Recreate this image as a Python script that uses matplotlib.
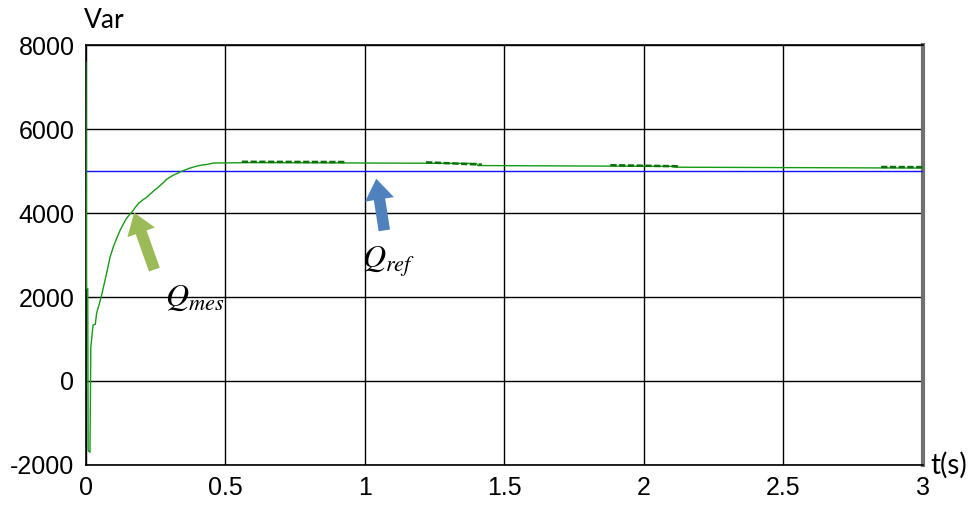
import matplotlib
matplotlib.use("Agg")
import matplotlib.pyplot as plt
import numpy as np

# ---- data ----
t_mes = [0.0, 0.0004, 0.003, 0.008, 0.0095, 0.016, 0.019, 0.027, 0.035, 0.040,
         0.050, 0.058, 0.070, 0.080, 0.088, 0.100, 0.112, 0.124, 0.135, 0.145,
         0.156, 0.166, 0.178, 0.190, 0.205, 0.220, 0.235, 0.245, 0.258, 0.268,
         0.280, 0.290, 0.302, 0.314, 0.328, 0.340, 0.355, 0.370, 0.385, 0.400,
         0.415, 0.430, 0.445, 0.458, 0.60, 1.00, 1.40, 1.405, 2.10, 2.12, 3.00]
q_mes = [-150, 7600, 2200, 2200, -1650, -1700, 800, 1330, 1350, 1620,
         1850, 2050, 2400, 2700, 2950, 3200, 3400, 3590, 3730, 3850,
         3950, 4020, 4130, 4230, 4310, 4380, 4470, 4530, 4600, 4660,
         4730, 4800, 4850, 4900, 4940, 4980, 5020, 5060, 5090, 5120,
         5140, 5150, 5170, 5190, 5200, 5190, 5180, 5130, 5110, 5090, 5070]
t_ref = [0.0, 3.0]
q_ref = [5000, 5000]

# noisy stretches of the measured curve (start, end) in seconds
noisy = [(0.56, 0.93), (1.22, 1.42), (1.88, 2.13), (2.85, 3.0)]

x_ticks = [0, 0.5, 1, 1.5, 2, 2.5, 3]
x_labels = ["0", "0.5", "1", "1.5", "2", "2.5", "3"]
y_ticks = [-2000, 0, 2000, 4000, 6000, 8000]
y_labels = ["-2000", "0", "2000", "4000", "6000", "8000"]

plt.rcParams['font.family'] = ['Liberation Sans', 'DejaVu Sans']
plt.rcParams['mathtext.fontset'] = 'stix'

fig = plt.figure(figsize=(9.77, 5.05), dpi=100)
ax = fig.add_axes([85.5/977, 1-465/505, (923-85.5)/977, (465-45)/505])

ax.plot(t_ref, q_ref, color='#1010ff', lw=1.0, zorder=3)
ax.plot(t_mes, q_mes, color='#159a15', lw=1.0, zorder=4)

# thicker segments where the measured signal chatters
tm = np.array(t_mes); qm = np.array(q_mes)
for a, b in noisy:
    qa = np.interp(a, tm, qm); qb = np.interp(b, tm, qm)
    ax.plot([a, b], [qa + 22, qb + 22], color='#0b700b', lw=1.8, zorder=4,
            solid_capstyle='butt', dashes=(2.5, 1.0))

ax.set_xlim(0, 3)
ax.set_ylim(-2000, 8000)
ax.set_xticks(x_ticks)
ax.set_xticklabels(x_labels)
ax.set_yticks(y_ticks)
ax.set_yticklabels(y_labels)
ax.tick_params(length=0, labelsize=18, pad=8)
ax.grid(True, color='black', lw=1.0)
ax.set_axisbelow(True)
for s in ['left', 'bottom', 'top']:
    ax.spines[s].set_color('black')
    ax.spines[s].set_linewidth(1.2)
ax.spines['right'].set_color('#707070')
ax.spines['right'].set_linewidth(3)

# arrows
ax.annotate('', xy=(0.171, 4070), xytext=(0.25, 2590),
            arrowprops=dict(arrowstyle='simple,head_length=1.0,head_width=1.4,tail_width=0.55',
                            color='#9BBB59', lw=0, mutation_scale=15), zorder=5)
ax.annotate('', xy=(1.04, 4880), xytext=(1.072, 3520),
            arrowprops=dict(arrowstyle='simple,head_length=1.0,head_width=1.4,tail_width=0.55',
                            color='#4F81BD', lw=0, mutation_scale=15), zorder=5)

ax.text(0.39, 1980, r'$Q_{mes}$', fontsize=23, ha='center', va='center')
ax.text(1.086, 2830, r'$Q_{ref}$', fontsize=23, ha='center', va='center')

fig.text(84/977, 1-21/505, 'Var', fontsize=19, ha='left', va='center',
         family=['Lato', 'DejaVu Sans'])
fig.text(930/977, 1-465/505, 't(s)', fontsize=20, ha='left', va='center',
         family=['Lato', 'DejaVu Sans'])

fig.savefig('out.png', dpi=100)
